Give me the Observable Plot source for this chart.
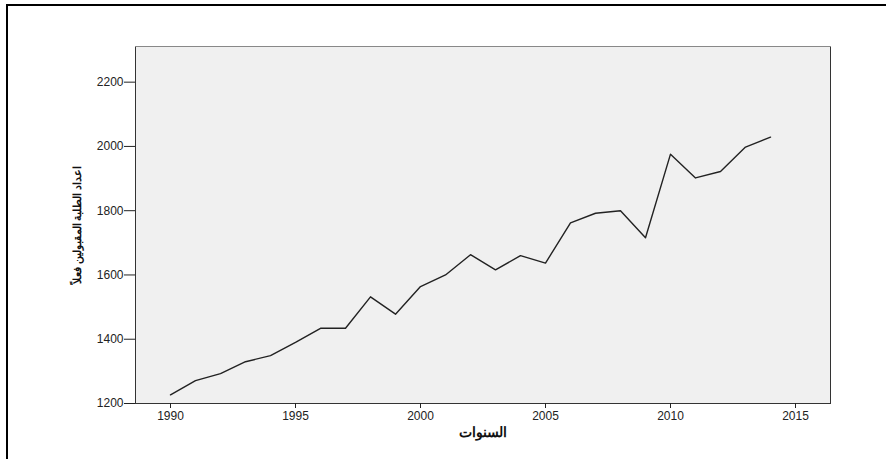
<!DOCTYPE html>
<html>
<head>
<meta charset="utf-8">
<script src="https://cdn.jsdelivr.net/npm/d3@7"></script>
<script src="https://cdn.jsdelivr.net/npm/@observablehq/plot@0.6"></script>
<style>
  html, body { margin: 0; padding: 0; background: #fff; overflow: hidden; }
  #wrap { position: relative; width: 886px; height: 459px; }
  #border { position: absolute; left: 6px; top: 4px; width: 900px; height: 500px;
            border-left: 2px solid #000; border-top: 2px solid #000; box-sizing: border-box; }
  #chart { position: absolute; left: 0; top: 0; }
  #chart svg [aria-label="x-axis label"] text { font-weight: bold; font-size: 13.5px; fill: #111; }
  #chart svg [aria-label="y-axis label"] text { font-weight: bold; font-size: 10.5px; fill: #111; }
</style>
</head>
<body>
<div id="wrap"><div id="border"></div><div id="chart"></div></div>
<script>
const years = [1990, 1991, 1992, 1993, 1994, 1995, 1996, 1997, 1998, 1999, 2000, 2001, 2002,
               2003, 2004, 2005, 2006, 2007, 2008, 2009, 2010, 2011, 2012, 2013, 2014];
const students = [1227, 1271, 1293, 1330, 1349, 1390, 1434, 1434, 1532, 1478, 1564, 1600, 1663,
                  1616, 1660, 1637, 1762, 1792, 1800, 1716, 1976, 1902, 1922, 1998, 2029];
const xTicks = [1990, 1995, 2000, 2005, 2010, 2015];
const yTicks = [1200, 1400, 1600, 1800, 2000, 2200];
const xLabel = "السنوات";
const yLabel = "اعداد الطلبة المقبولين فعلاً";

const data = years.map((year, i) => ({year, value: students[i]}));

const chart = Plot.plot({
  width: 886,
  height: 459,
  marginLeft: 135,
  marginRight: 56,
  marginTop: 46,
  marginBottom: 56,
  style: {fontFamily: "'Liberation Sans', Arial, sans-serif", fontSize: "12px", background: "transparent", color: "#222"},
  x: {domain: [1988.6, 2016.4]},
  y: {domain: [1200, 2311]},
  marks: [
    Plot.frame({fill: "#f0f0f0", stroke: "#333"}),
    Plot.frame({anchor: "top", stroke: "#888"}),
    Plot.axisY({ticks: yTicks, tickFormat: d => String(d), tickSize: 11, tickPadding: 1,
                label: yLabel, labelAnchor: "center", labelOffset: 62, labelArrow: false}),
    Plot.axisX({ticks: xTicks, tickFormat: d => String(d), tickSize: 5, tickPadding: 3,
                label: xLabel, labelAnchor: "center", labelOffset: 33, labelArrow: false}),
    Plot.line(data, {x: "year", y: "value", stroke: "#222", strokeWidth: 1.4})
  ]
});
document.getElementById("chart").appendChild(chart);
</script>
</body>
</html>
